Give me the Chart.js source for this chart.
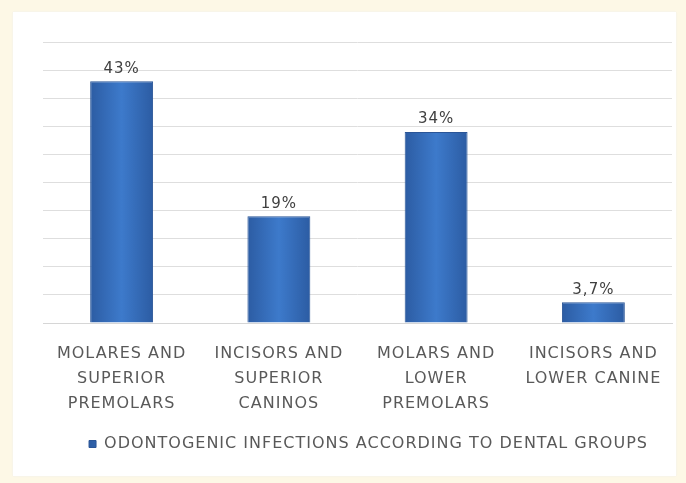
<!DOCTYPE html>
<html>
<head>
<meta charset="utf-8">
<script src="https://cdn.jsdelivr.net/npm/chart.js@4"></script>
<style>
    html, body { margin: 0; padding: 0; }
    body { width: 686px; height: 483px; background: #fdf8e6; position: relative; overflow: hidden; }
    #panel { position: absolute; left: 13px; top: 12px; width: 663px; height: 464px; background: #fff; box-shadow: 0 0 2px #eee; }
    #chart { display: block; position: absolute; left: 0; top: 0; }
</style>
</head>
<body>
<div id="panel"><canvas id="chart" width="681" height="464"></canvas></div>
<script>
// Data
const categories = [
    ['MOLARES AND', 'SUPERIOR', 'PREMOLARS'],
    ['INCISORS AND', 'SUPERIOR', 'CANINOS'],
    ['MOLARS AND', 'LOWER', 'PREMOLARS'],
    ['INCISORS AND', 'LOWER CANINE']
];
const infections = [43, 19, 34, 3.7];
const seriesName = 'ODONTOGENIC INFECTIONS ACCORDING TO DENTAL GROUPS';
const yMax = 50;
const yStep = 5;

const fontFamily = "'DejaVu Sans', Verdana, sans-serif";
const BAR_PCT = 0.4;

// horizontal gradient per bar, like the Excel bevel look
function barFill(ctx) {
    if (ctx.type !== 'data') return '#3a72c0';
    const chart = ctx.chart;
    const xs = chart.scales.x;
    if (!xs || !chart.chartArea) return '#3a72c0';
    const cx = xs.getPixelForValue(ctx.dataIndex);
    const w = (xs.width / categories.length) * BAR_PCT;
    const g = chart.ctx.createLinearGradient(cx - w / 2, 0, cx + w / 2, 0);
    g.addColorStop(0, '#2c5ca3');
    g.addColorStop(0.5, '#3d7acb');
    g.addColorStop(1, '#2c5ca3');
    return g;
}

// the original text is widely spaced, canvas letterSpacing gets close to it
const spacing = {
    id: 'spacing',
    beforeUpdate(chart) { chart.ctx.letterSpacing = '1px'; },
    beforeDraw(chart) { chart.ctx.letterSpacing = '1px'; }
};

// value labels above bars
const valueLabels = {
    id: 'valueLabels',
    afterDatasetsDraw(chart) {
        const { ctx } = chart;
        const meta = chart.getDatasetMeta(0);
        ctx.save();
        ctx.font = '15px ' + fontFamily;
        ctx.fillStyle = '#404040';
        ctx.textAlign = 'center';
        ctx.textBaseline = 'bottom';
        meta.data.forEach((bar, i) => {
            const txt = String(infections[i]).replace('.', ',') + '%';
            ctx.fillText(txt, bar.x, bar.y - 5);
        });
        ctx.restore();
    }
};

new Chart(document.getElementById('chart'), {
    type: 'bar',
    data: {
        labels: categories,
        datasets: [{
            label: seriesName,
            data: infections,
            backgroundColor: barFill,
            borderColor: '#2a5597',
            borderWidth: 1,
            categoryPercentage: 1,
            barPercentage: BAR_PCT
        }]
    },
    options: {
        responsive: false,
        animation: false,
        layout: { padding: { left: 30, right: 0, top: 30, bottom: 14 } },
        plugins: {
            legend: {
                position: 'bottom',
                labels: {
                    boxWidth: 7,
                    boxHeight: 7,
                    color: '#595959',
                    font: { family: fontFamily, size: 16 },
                    padding: 2
                }
            },
            tooltip: { enabled: false }
        },
        scales: {
            x: {
                grid: { display: false, drawTicks: false },
                border: { color: '#d6d6d6' },
                ticks: {
                    color: '#595959',
                    font: { family: fontFamily, size: 16, lineHeight: 1.5625 },
                    padding: 18,
                    maxRotation: 0,
                    autoSkip: false
                }
            },
            y: {
                position: 'right', // empty strip on the right keeps the legend centred like the original
                min: 0,
                max: yMax,
                afterFit: (axis) => { axis.width = 22; },
                ticks: { display: false, stepSize: yStep },
                grid: { color: '#dedede', drawTicks: false },
                border: { display: false }
            }
        }
    },
    plugins: [spacing, valueLabels]
});
</script>
</body>
</html>
